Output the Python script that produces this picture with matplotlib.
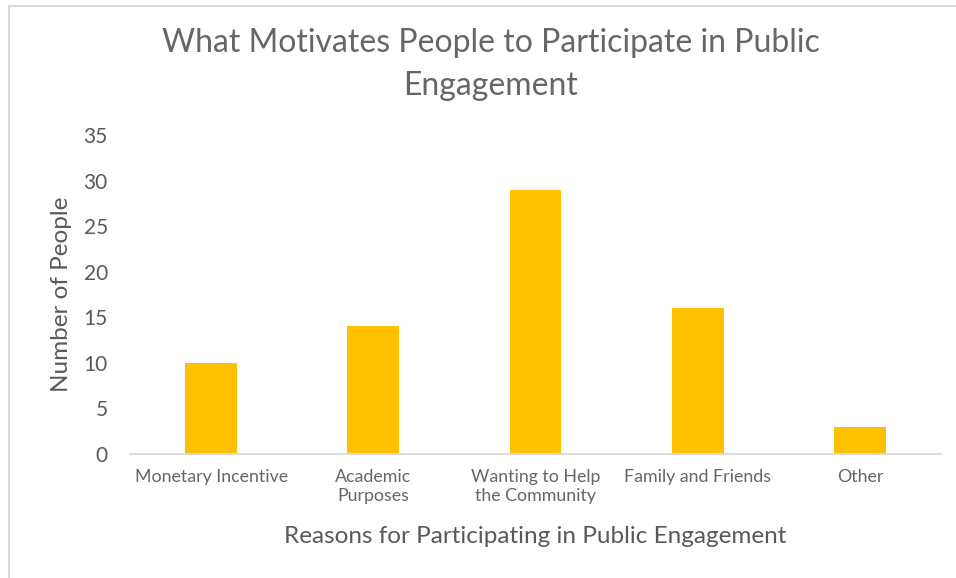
import matplotlib.pyplot as plt
from matplotlib.patches import Rectangle

# survey results: why people take part in public engagement
reasons = ['Monetary Incentive', 'Academic\nPurposes', 'Wanting to Help\nthe Community',
           'Family and Friends', 'Other']
people = [10, 14, 29, 16, 3]
y_ticks = [0, 5, 10, 15, 20, 25, 30, 35]

text_grey = '#595959'
bar_gold = '#FFC000'

fig = plt.figure(figsize=(9.56, 5.78), dpi=100)
ax = fig.add_axes([130 / 956, 1 - 454 / 578, 811 / 956, 319 / 578])

x = range(len(reasons))
ax.bar(x, people, width=0.32, color=bar_gold, zorder=2)

ax.set_xlim(-0.5, len(reasons) - 0.5)
ax.set_ylim(0, 35)
ax.set_yticks(y_ticks)
ax.set_xticks(list(x))
ax.set_xticklabels(reasons, family='Lato', fontsize=12.8,
                   color='#666666', linespacing=1.2)
ax.set_yticklabels([str(t) for t in y_ticks], family='Lato', fontsize=15, color=text_grey)
ax.tick_params(axis='both', length=0)
ax.tick_params(axis='x', pad=11)
ax.tick_params(axis='y', pad=16)

for side in ['top', 'right', 'left']:
    ax.spines[side].set_visible(False)
ax.spines['bottom'].set_color('#D9D9D9')
ax.spines['bottom'].set_linewidth(1.3)

ax.set_ylabel('Number of People', family='Lato', fontsize=17.5, color=text_grey)
ax.yaxis.set_label_coords(-0.0715, 0.5)
ax.set_xlabel('Reasons for Participating in Public Engagement', family='Lato',
              fontsize=17.5, color=text_grey)
ax.xaxis.set_label_coords(0.5, -0.227)

fig.text(491 / 956, 1 - 64.5 / 578, 'What Motivates People to Participate in Public\nEngagement',
         ha='center', va='center', family='Lato', fontsize=23,
         color='#666666', linespacing=1.52)

# chart area frame, runs off the right and bottom edges
fig.patches.append(Rectangle((9 / 956, -0.05), 1.1, 1 - 6 / 578 + 0.05,
                             transform=fig.transFigure, fill=False,
                             edgecolor='#D9D9D9', linewidth=1.5))

fig.savefig('out.png', dpi=100)
